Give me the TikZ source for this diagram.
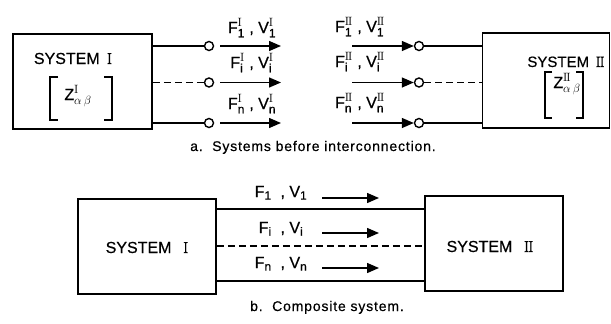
\documentclass[tikz,border=0pt]{standalone}
\usepackage{fontspec}
\setsansfont{Liberation Sans}[FakeBold=0.5]
\newfontfamily\capfont{Liberation Sans}[LetterSpace=6,FakeBold=0.5]
\newfontfamily\romfont{Latin Modern Roman}[FakeBold=0.5]
\usetikzlibrary{arrows.meta}
\DeclareMathSizes{16}{16}{12}{9}
\newcommand\rI{\mathrm{I}}
\newcommand\rII{\mathrm{I\kern-1pt I}}
\newcommand\FV[2]{$\mathsf{F}^{#2}_{\mathsf{#1}}$\ ,\ $\mathsf{V}^{#2}_{\mathsf{#1}}$}
\newcommand\FVb[1]{$\mathsf{F}_{\mathsf{#1}}$\ \ ,\ $\mathsf{V}_{\mathsf{#1}}$}
\begin{document}
\begin{tikzpicture}[x=1pt,y=-1pt,
  box/.style={draw,line width=1.6pt,inner sep=0pt},
  wire/.style={line width=1.5pt},
  dwire/.style={wire,dash pattern=on 7pt off 4pt},
  brk/.style={line width=1.3pt},
  term/.style={circle,draw,line width=1.4pt,minimum size=9pt,inner sep=0pt,fill=white},
  flow/.style={line width=1.4pt,-{Triangle[length=12pt,width=10pt]}},
  lab/.style={anchor=base,inner sep=0pt,font=\fontsize{16}{19}\selectfont\sffamily},
  captxt/.style={anchor=base,inner sep=0pt,font=\fontsize{14}{17}\selectfont\capfont},
]
\useasboundingbox (0,0) rectangle (611,324);
% ---------- (a) ----------
\node[box,minimum width=139pt,minimum height=95pt] (A) at (82.5,81.5) {};
\node[box,minimum width=127pt,minimum height=95pt] (B) at (546,80.5) {};
\node[lab] (At) at (73,64) {SYSTEM\ \,{\romfont I}};
\node[lab] (Az) at (78,100) {$\mathsf{Z}^{\rI}_{\alpha\,\beta}$};
\draw[brk] (58,77) -- (50,77) -- (50,120) -- (58,120);
\draw[brk] (104,77) -- (112,77) -- (112,120) -- (104,120);
\node[lab,font=\fontsize{15}{18}\selectfont\sffamily] (Bt) at (566,67) {SYSTEM\ \,{\romfont I\kern-1pt I}};
\node[lab] (Bz) at (567,88) {$\mathsf{Z}^{\rII}_{\alpha\,\beta}$};
\draw[brk] (552,72) -- (545,72) -- (545,118) -- (552,118);
\draw[brk] (576,72) -- (583,72) -- (583,118) -- (576,118);
% terminals
\node[term] (c1) at (209,46) {};
\node[term] (c2) at (209,82.5) {};
\node[term] (c3) at (209,123) {};
\node[term] (d1) at (419,46) {};
\node[term] (d2) at (419,82.5) {};
\node[term] (d3) at (419,123) {};
\draw[wire] (A.east |- c1) -- (c1);
\draw[dwire] (A.east |- c2) -- (c2);
\draw[wire] (A.east |- c3) -- (c3);
\draw[wire] (d1) -- (B.west |- d1);
\draw[dwire] (d2) -- (B.west |- d2);
\draw[wire] (d3) -- (B.west |- d3);
% arrows
\coordinate (la1s) at (220,46);  \coordinate (la1e) at (281,46);
\coordinate (la2s) at (220,82.5);\coordinate (la2e) at (281,82.5);
\coordinate (la3s) at (220,123); \coordinate (la3e) at (281,123);
\draw[flow] (la1s) -- (la1e);
\draw[flow] (la2s) -- (la2e);
\draw[flow] (la3s) -- (la3e);
\coordinate (ra1) at (352,46);
\coordinate (ra2) at (352,82.5);
\coordinate (ra3) at (352,123);
\draw[flow] (ra1) -- (d1.west);
\draw[flow] (ra2) -- (d2.west);
\draw[flow] (ra3) -- (d3.west);
% labels
\node[lab] (l1) at (252,33) {\FV{1}{\rI}};
\node[lab] (l2) at (252,68) {\FV{i}{\rI}};
\node[lab] (l3) at (252,109) {\FV{n}{\rI}};
\node[lab] (r1) at (360,32) {\FV{1}{\rII}};
\node[lab] (r2) at (360,67) {\FV{i}{\rII}};
\node[lab] (r3) at (360,108) {\FV{n}{\rII}};
\node[captxt] (capa) at (313,151) {a.\ \ Systems before interconnection.};
% ---------- (b) ----------
\node[box,minimum width=138pt,minimum height=95pt] (C) at (147,246.5) {};
\node[box,minimum width=138pt,minimum height=95pt] (D) at (494,243.5) {};
\node[lab] (Ct) at (147,253) {SYSTEM\ \ \,{\romfont I}};
\node[lab] (Dt) at (490,252) {SYSTEM\ \ \,{\romfont I\kern-1pt I}};
\coordinate (w1) at (300,209);
\coordinate (w2) at (300,246);
\coordinate (w3) at (300,281);
\draw[wire] (C.east |- w1) -- (D.west |- w1);
\draw[dwire] (C.east |- w2) -- (D.west |- w2);
\draw[wire] (C.east |- w3) -- (D.west |- w3);
\coordinate (b1s) at (322,198); \coordinate (b1e) at (379,198);
\coordinate (b2s) at (322,233); \coordinate (b2e) at (379,233);
\coordinate (b3s) at (322,268); \coordinate (b3e) at (379,268);
\draw[flow] (b1s) -- (b1e);
\draw[flow] (b2s) -- (b2e);
\draw[flow] (b3s) -- (b3e);
\node[lab] (m1) at (281,197) {\FVb{1}};
\node[lab] (m2) at (281,233) {\FVb{i}};
\node[lab] (m3) at (281,268) {\FVb{n}};
\node[captxt] (capb) at (327,311) {b.\ \ Composite system.};
\end{tikzpicture}
\end{document}
